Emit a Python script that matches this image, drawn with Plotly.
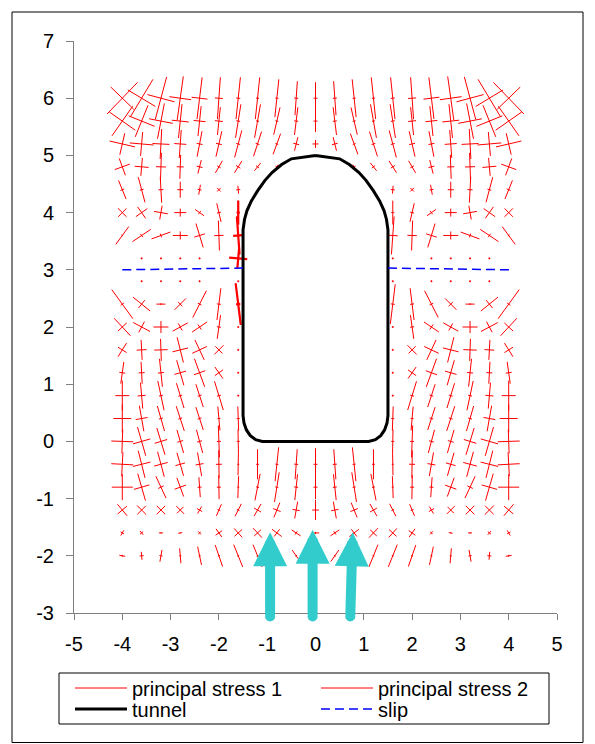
import math
import plotly.graph_objects as go

N = None

# grid of evaluation points (columns left->right, rows top->bottom)
X_VALUES = [-4.0, -3.6, -3.2, -2.8, -2.4, -2.0, -1.6, -1.2, -0.8, -0.4, 0.0,
            0.4, 0.8, 1.2, 1.6, 2.0, 2.4, 2.8, 3.2, 3.6, 4.0]
Y_VALUES = [6.0, 5.6, 5.2, 4.8, 4.4, 4.0, 3.6, 3.2, 2.8, 2.4, 2.0,
            1.6, 1.2, 0.8, 0.4, 0.0, -0.4, -0.8, -1.2, -1.6, -2.0]

# orientation of principal stress 1 (degrees from vertical, + = top leaning right)
ANGLE = [
    [44, 31, 15, 8, 7, 4, 6, 6, 6, 4, 0, -4, -6, -6, -6, -4, -7, -8, -15, -31, -44],
    [35, 22, 11, 6, 6, 6, 9, 10, 13, 7, 0, -7, -13, -10, -9, -6, -6, -6, -11, -22, -35],
    [13, 5, 3, 4, 11, 13, 15, 18, 20, 14, 0, -14, -20, -18, -15, -13, -11, -4, -3, -5, -13],
    [-20, 5, 2, 2, 14, 30, 32, 39, 30, N, N, N, -30, -39, -32, -30, -14, -2, -2, -5, 20],
    [-22, -15, -3, 0, 10, 45, -5, N, N, N, N, N, N, N, 5, -45, -10, 0, 3, 15, 22],
    [45, -35, 10, 0, -55, -13, 0, N, N, N, N, N, N, N, 0, 13, 55, 0, -10, 35, -45],
    [36, 56, 70, 90, -17, -2, -4, N, N, N, N, N, N, N, 4, 2, 17, -90, -70, -56, -36],
    [N, 0, 0, 0, 0, N, 5, N, N, N, N, N, N, N, 0, N, 0, 0, 0, 0, N],
    [N, 0, 0, 0, 0, N, 0, N, N, N, N, N, N, N, 0, N, 0, 0, 0, 0, N],
    [-36, -51, 90, 45, 27, 7, -7, N, N, N, N, N, N, N, 7, -7, -27, -45, -90, 51, 36],
    [-43, -62, 0, 61, 56, 8, 0, N, N, N, N, N, N, N, 0, -8, -56, -61, 0, 62, 43],
    [32, -3, -2, -14, -25, 45, 0, N, N, N, N, N, N, N, 0, -45, 25, 14, 2, 3, -32],
    [8, -3, -6, -16, -20, -35, 0, N, N, N, N, N, N, N, 0, 35, 20, 16, 6, 3, -8],
    [0, -5, -12, -17, -18, -17, 0, N, N, N, N, N, N, N, 0, 17, 18, 17, 12, 5, 0],
    [0, -10, -16, -18, -18, -5, -2, N, N, N, N, N, N, N, 2, 5, 18, 18, 16, 10, 0],
    [2, -16, -17, -16, -15, -2, -1, N, N, N, N, N, N, N, 1, 2, 15, 16, 17, 16, -2],
    [3, -14, -15, -16, -10, -1, 1, 0, 6, 4, 0, -4, -6, 0, -1, 1, 10, 16, 15, 14, -3],
    [0, -16, -25, -20, -4, -1, 2, 11, 9, 6, 0, -6, -9, -11, -2, 1, 4, 20, 25, 16, 0],
    [-40, -45, -45, -45, 30, 23, 27, 30, 22, 10, 0, -10, -22, -30, -27, -23, -30, 45, 45, 45, 40],
    [30, -40, 90, 80, -40, -35, -42, -43, -53, -56, 90, 56, 53, 43, 42, 35, 40, -80, -90, 40, -30],
    [-80, -5, 10, -5, -12, -19, -22, -22, -28, -35, 0, 35, 28, 22, 22, 19, 12, 5, -10, 5, 80],
]

# magnitude of principal stress 1 (drawn half-length)
STRESS1 = [
    [22, 22, 22, 22, 21, 21, 21, 21, 19, 17, 16, 17, 19, 21, 21, 21, 21, 22, 22, 22, 22],
    [18, 17, 18, 17, 15, 14, 17, 17, 14, 14, 11, 14, 14, 17, 17, 14, 15, 17, 18, 17, 18],
    [11, 12, 15, 14, 13, 13, 14, 13, 11, 7, 4, 7, 11, 13, 14, 13, 13, 14, 15, 12, 11],
    [9, 9, 14, 12, 7, 7, 7, 5, 2.5, N, N, N, 2.5, 5, 7, 7, 7, 12, 14, 9, 9],
    [10, 13, 13, 8, 5, 2.5, 4, N, N, N, N, N, N, N, 4, 2.5, 5, 8, 13, 13, 10],
    [6, 7, 7, 4, 5.5, 9.5, 12, N, N, N, N, N, N, N, 12, 9.5, 5.5, 4, 7, 7, 6],
    [11, 11, 10, 7.5, 12.5, 15, 19, N, N, N, N, N, N, N, 19, 15, 12.5, 7.5, 10, 11, 11],
    [N, 1, 1, 1, 1, N, 10, N, N, N, N, N, N, N, 1, N, 1, 1, 1, 1, N],
    [N, 1, 1, 1, 1, N, 1, N, N, N, N, N, N, N, 1, N, 1, 1, 1, 1, N],
    [18, 11, 4.5, 8, 15, 16, 21, N, N, N, N, N, N, N, 20, 16, 15, 8, 4.5, 11, 18],
    [12, 9.5, 6, 8.6, 9, 12, 1, N, N, N, N, N, N, N, 1, 12, 9, 8.6, 6, 9.5, 12],
    [8, 10, 11, 13, 11, 6.5, 1, N, N, N, N, N, N, N, 1, 6.5, 11, 13, 11, 10, 8],
    [11, 11, 14, 13, 15, 7, 1, N, N, N, N, N, N, N, 1, 7, 15, 13, 14, 11, 11],
    [15, 13, 15, 13, 12, 15, 1, N, N, N, N, N, N, N, 1, 15, 12, 13, 15, 13, 15],
    [14, 13, 13, 13, 12, 12, 12, N, N, N, N, N, N, N, 12, 12, 12, 13, 13, 13, 14],
    [12, 15, 14, 12, 12, 16, 12, N, N, N, N, N, N, N, 12, 16, 12, 12, 14, 15, 12],
    [12, 14, 13, 12, 12, 14, 11, 15, 17, 15, 16, 15, 17, 15, 11, 14, 12, 12, 13, 14, 12],
    [13, 14, 12, 10, 10, 12, 11, 13.5, 15, 13, 12, 13, 15, 13.5, 11, 12, 10, 10, 12, 14, 13],
    [7.5, 6.5, 6, 5.5, 4, 6.3, 7, 7, 8, 8.5, 10, 8.5, 8, 7, 7, 6.3, 4, 5.5, 6, 6.5, 7.5],
    [3, 2.5, 2, 2, 2, 5, 6, 6.5, 6, 5.4, 3.8, 5.4, 6, 6.5, 6, 5, 2, 2, 2, 2.5, 3],
    [3, 4, 6, 7.5, 9.3, 11.4, 12, 12, 10, 7, 4, 7, 10, 12, 12, 11.4, 9.3, 7.5, 6, 4, 3],
]

# magnitude of principal stress 2 (drawn half-length, perpendicular)
STRESS2 = [
    [16, 16, 14, 11, 8, 4, 2, 1.5, 1.5, 2, 2, 2, 1.5, 1.5, 2, 4, 8, 11, 14, 16, 16],
    [16, 14, 12, 8.5, 6, 4, 2, 1.5, 1.5, 2, 2, 2, 1.5, 1.5, 2, 4, 6, 8.5, 12, 14, 16],
    [13, 12, 8.5, 6, 3, 3, 2, 2, 1.5, 3, 3, 3, 1.5, 2, 2, 3, 3, 6, 8.5, 12, 13],
    [8, 7, 5, 3.5, 3, 2, 2.5, 2, 1.5, N, N, N, 1.5, 2, 2.5, 2, 3, 3.5, 5, 7, 8],
    [2, 2, 2.5, 3, 2, 2.5, 2, N, N, N, N, N, N, N, 2, 2.5, 2, 3, 2.5, 2, 2],
    [6, 7, 7, 6, 2, 2, 1.5, N, N, N, N, N, N, N, 1.5, 2, 2, 6, 7, 7, 6],
    [1, 2, 2, 4, 5.5, 4.7, 5, N, N, N, N, N, N, N, 5, 4.7, 5.5, 4, 2, 2, 1],
    [N, 1, 1, 1, 1, N, 9, N, N, N, N, N, N, N, 1, N, 1, 1, 1, 1, N],
    [N, 1, 1, 1, 1, N, 1, N, N, N, N, N, N, N, 1, N, 1, 1, 1, 1, N],
    [2, 5, 1, 3, 2, 2, 2, N, N, N, N, N, N, N, 2, 2, 2, 3, 1, 5, 2],
    [6, 6, 7.5, 4, 3, 2, 1, N, N, N, N, N, N, N, 1, 2, 3, 4, 7.5, 6, 6],
    [5, 5, 6.7, 8, 8, 5, 1, N, N, N, N, N, N, N, 1, 5, 8, 8, 6.7, 5, 5],
    [3, 3, 3, 6, 6, 5, 1, N, N, N, N, N, N, N, 1, 5, 6, 6, 3, 3, 3],
    [7, 4, 2, 2, 2, 2, 1, N, N, N, N, N, N, N, 1, 2, 2, 2, 2, 4, 7],
    [9, 6, 2, 2, 2, 1.5, 1.5, N, N, N, N, N, N, N, 1.5, 1.5, 2, 2, 2, 6, 9],
    [11, 9, 6.5, 3, 2.5, 2, 1.5, N, N, N, N, N, N, N, 1.5, 2, 2.5, 3, 6.5, 9, 11],
    [11, 9, 7, 5, 4, 3, 1, 1.5, 1.5, 2, 2, 2, 1.5, 1.5, 1, 3, 4, 5, 7, 9, 11],
    [10.5, 8, 3, 6, 2, 2, 1, 1.5, 1.5, 2, 2, 2, 1.5, 1.5, 1, 2, 2, 6, 3, 8, 10.5],
    [6, 6, 6, 4.5, 3, 1.5, 1.5, 4, 4, 3.7, 3.3, 3.7, 4, 4, 1.5, 1.5, 3, 4.5, 6, 6, 6],
    [2, 2, 0.5, 0.5, 1.5, 4, 5, 4.5, 4.5, 2, 1, 2, 4.5, 4.5, 5, 4, 1.5, 0.5, 0.5, 2, 2],
    [1, 2, 1.5, 1, 1, 1, 1, 1, 1, 1, 1, 1, 1, 1, 1, 1, 1, 1, 1.5, 2, 1],
]

# points along the left tunnel wall that are drawn heavier
WALL_X = [-1.6, -1.6, -1.6, -1.6]
WALL_Y = [4.0, 3.6, 3.2, 2.4]

# tunnel outline
TUNNEL_X = [0.0, -0.5, -0.7, -0.9, -1.05, -1.2, -1.33, -1.42, -1.47, -1.5, -1.5,
            -1.48, -1.43, -1.35, -1.24, -1.1, 1.1, 1.24, 1.35, 1.43, 1.48, 1.5,
            1.5, 1.47, 1.42, 1.33, 1.2, 1.05, 0.9, 0.7, 0.5, 0.0]
TUNNEL_Y = [5.0, 4.94, 4.84, 4.7, 4.56, 4.38, 4.2, 4.03, 3.88, 3.7, 0.45,
            0.32, 0.2, 0.1, 0.03, 0.0, 0.0, 0.03, 0.1, 0.2, 0.32, 0.45,
            3.7, 3.88, 4.03, 4.2, 4.38, 4.56, 4.7, 4.84, 4.94, 5.0]

# slip lines
SLIP_X = [-4.0, -1.5, None, 1.5, 4.05]
SLIP_Y = [3.0, 3.03, None, 3.03, 3.0]

# loading arrows (tail -> tip)
ARROW_TAIL_X = [-0.94, -0.06, 0.72]
ARROW_TAIL_Y = [-3.06, -3.06, -3.06]
ARROW_TIP_X = [-0.94, -0.06, 0.77]
ARROW_TIP_Y = [-1.59, -1.545, -1.59]

X_TICKS = [-5, -4, -3, -2, -1, 0, 1, 2, 3, 4, 5]
X_TICK_LABELS = ["-5", "-4", "-3", "-2", "-1", "0", "1", "2", "3", "4", "5"]
Y_TICKS = [-3, -2, -1, 0, 1, 2, 3, 4, 5, 6, 7]
Y_TICK_LABELS = ["-3", "-2", "-1", "0", "1", "2", "3", "4", "5", "6", "7"]

# ---------------------------------------------------------------- layout
W, H = 595, 744
ML, MR, MT, MB = 74, 38, 41, 131
XR = [-5, 5]
YR = [-3, 7]
PLOT_W = W - ML - MR
PLOT_H = H - MT - MB
PX_X = PLOT_W / (XR[1] - XR[0])
PX_Y = PLOT_H / (YR[1] - YR[0])
FONT = "Liberation Sans, Arial, sans-serif"
FS = 20
RED = "#FF0000"
CYAN = "#33CCCC"


def px_to_paper_x(px):
    return (px - ML) / PLOT_W


def px_to_paper_y(py):
    return (H - MB - py) / PLOT_H


def segments(rows, cols):
    s1x, s1y, s2x, s2y = [], [], [], []
    for r, c in zip(rows, cols):
        a = ANGLE[r][c]
        if a is None:
            continue
        x, y = X_VALUES[c], Y_VALUES[r]
        t = math.radians(a)
        l1, l2 = STRESS1[r][c], STRESS2[r][c]
        dx, dy = l1 * math.sin(t) / PX_X, l1 * math.cos(t) / PX_Y
        s1x += [x - dx, x + dx, None]
        s1y += [y - dy, y + dy, None]
        dx, dy = l2 * math.cos(t) / PX_X, -l2 * math.sin(t) / PX_Y
        s2x += [x - dx, x + dx, None]
        s2y += [y - dy, y + dy, None]
    return s1x, s1y, s2x, s2y


all_r = [r for r in range(len(Y_VALUES)) for c in range(len(X_VALUES))]
all_c = [c for r in range(len(Y_VALUES)) for c in range(len(X_VALUES))]
s1x, s1y, s2x, s2y = segments(all_r, all_c)

wall_r = [Y_VALUES.index(v) for v in WALL_Y]
wall_c = [X_VALUES.index(v) for v in WALL_X]
w1x, w1y, w2x, w2y = segments(wall_r, wall_c)

fig = go.Figure()
fig.add_trace(go.Scatter(x=s1x, y=s1y, mode="lines", name="principal stress 1",
                         line=dict(color=RED, width=1), hoverinfo="skip", legend="legend"))
fig.add_trace(go.Scatter(x=s2x, y=s2y, mode="lines", name="principal stress 2",
                         line=dict(color=RED, width=1), hoverinfo="skip", legend="legend"))
fig.add_trace(go.Scatter(x=w1x + w2x, y=w1y + w2y, mode="lines", showlegend=False,
                         line=dict(color=RED, width=2.2), hoverinfo="skip"))
fig.add_trace(go.Scatter(x=TUNNEL_X, y=TUNNEL_Y, mode="lines", name="tunnel",
                         line=dict(color="black", width=3), legend="legend2"))
fig.add_trace(go.Scatter(x=SLIP_X, y=SLIP_Y, mode="lines", name="slip",
                         line=dict(color="#0000FF", width=1.5, dash="9px,5px"),
                         legend="legend2"))

# arrows: shaft + head as annotations (pixel offsets so the tail is not clipped)
for tx, ty, hx, hy in zip(ARROW_TAIL_X, ARROW_TAIL_Y, ARROW_TIP_X, ARROW_TIP_Y):
    fig.add_annotation(x=hx, y=hy, xref="x", yref="y",
                       ax=(tx - hx) * PX_X, ay=(hy - ty) * PX_Y,
                       text="", showarrow=True, arrowhead=2, arrowsize=0.68,
                       arrowwidth=10, arrowcolor=CYAN, standoff=0, startstandoff=0)
    # rounded end of the shaft
    cx = px_to_paper_x(ML + (tx - XR[0]) * PX_X)
    cy = px_to_paper_y(H - MB - (ty - YR[0]) * PX_Y)
    fig.add_shape(type="circle", xref="paper", yref="paper",
                  x0=cx - 5 / PLOT_W, x1=cx + 5 / PLOT_W,
                  y0=cy - 5 / PLOT_H, y1=cy + 5 / PLOT_H,
                  line=dict(width=0), fillcolor=CYAN, layer="above")

axis_common = dict(showgrid=False, zeroline=False, showline=True, linecolor="#808080",
                   linewidth=1, ticks="outside", tickcolor="#808080", tickwidth=1,
                   tickfont=dict(family=FONT, size=FS, color="black"), mirror=False)

fig.update_xaxes(range=XR, tickmode="array", tickvals=X_TICKS, ticktext=X_TICK_LABELS,
                 ticklen=6, ticklabelstandoff=7, **axis_common)
fig.update_yaxes(range=YR, tickmode="array", tickvals=Y_TICKS, ticktext=Y_TICK_LABELS,
                 ticklen=7, ticklabelstandoff=8, **axis_common)

# outer chart frame
fig.add_shape(type="rect", xref="paper", yref="paper",
              x0=px_to_paper_x(12), x1=px_to_paper_x(583),
              y0=px_to_paper_y(742.5), y1=px_to_paper_y(12),
              line=dict(color="black", width=1), fillcolor="rgba(0,0,0,0)", layer="below")
# legend frame
fig.add_shape(type="rect", xref="paper", yref="paper",
              x0=px_to_paper_x(59), x1=px_to_paper_x(549),
              y0=px_to_paper_y(724), y1=px_to_paper_y(673),
              line=dict(color="black", width=1), fillcolor="white", layer="below")

legend_common = dict(orientation="h", xanchor="left", yanchor="middle",
                     entrywidth=179, itemwidth=52, bgcolor="rgba(0,0,0,0)",
                     borderwidth=0, font=dict(family=FONT, size=FS, color="black"),
                     traceorder="normal")

fig.update_layout(
    width=W, height=H,
    margin=dict(l=ML, r=MR, t=MT, b=MB, autoexpand=False),
    paper_bgcolor="white", plot_bgcolor="white",
    font=dict(family=FONT, size=FS, color="black"),
    showlegend=True,
    legend=dict(x=px_to_paper_x(70), y=px_to_paper_y(688), **legend_common),
    legend2=dict(x=px_to_paper_x(70), y=px_to_paper_y(709), **legend_common),
)

fig.write_html("out.html")
